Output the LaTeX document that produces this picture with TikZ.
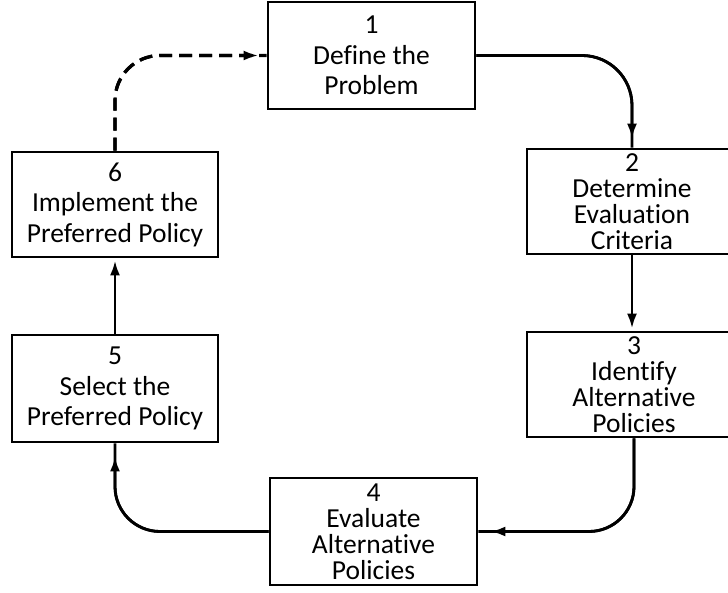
\documentclass[tikz,border=0pt]{standalone}
\usepackage{fontspec}
\setmainfont{Carlito}[RawFeature={-liga;-clig;-calt;-dlig}]
\usetikzlibrary{arrows.meta}
\begin{document}
\begin{tikzpicture}[x=1pt,y=-1pt,
  box/.style={draw,line width=2.8pt,rectangle,inner sep=0pt,align=center,
    font=\fontsize{27.5}{30.5}\selectfont},
  tallbox/.style={box,font=\fontsize{27.5}{26}\selectfont},
  conn/.style={line width=2.8pt},
  dconn/.style={line width=3.2pt,dash pattern=on 13pt off 7pt},
  tipend/.style={-{Latex[length=15pt,width=10pt]}}
]
\useasboundingbox (0,0) rectangle (728,593);
\clip (0,0) rectangle (728,593);
\node[box,minimum width=207,minimum height=107] (b1) at (371.5,55.5) {1\\Define the\\Problem};
\node[tallbox,minimum width=210,minimum height=105] (b2) at (632,201.5) {2\\Determine\\Evaluation\\Criteria};
\node[tallbox,minimum width=214,minimum height=105] (b3) at (634,384.5) {3\\Identify\\Alternative\\Policies};
\node[tallbox,minimum width=207,minimum height=107] (b4) at (373.5,531.5) {4\\Evaluate\\Alternative\\Policies};
\node[box,minimum width=206,minimum height=107] (b5) at (115,388.5) {5\\Select the\\Preferred Policy};
\node[box,minimum width=206,minimum height=105] (b6) at (115,204.5) {6\\Implement the\\Preferred Policy};
% 1 -> 2
\draw[conn,rounded corners=50] (b1.east) -| (b2.north);
\draw[conn,tipend,rounded corners=50,shorten >=9pt] (b1.east) -| (b2.north);
% 2 -> 3
\draw[conn,tipend,shorten >=2pt] (b2.south) -- (b2.south |- b3.north);
% 3 -> 4
\draw[conn,rounded corners=45] (b3.south) |- (b4.east);
\draw[conn,tipend,rounded corners=45,shorten >=12pt] (b3.south) |- (b4.east);
% 4 -> 5
\draw[conn,rounded corners=45] (b4.west) -| (b5.south);
\draw[conn,tipend,rounded corners=45,shorten >=13pt] (b4.west) -| (b5.south);
% 5 -> 6
\draw[conn,tipend,shorten >=2pt] (b5.north) -- (b6.south);
% 6 -> 1 (dashed)
\draw[dconn,rounded corners=45] (b6.north) |- (b1.west);
\draw[dconn,tipend,rounded corners=45,shorten >=8pt] (b6.north) |- (b1.west);
\end{tikzpicture}
\end{document}
